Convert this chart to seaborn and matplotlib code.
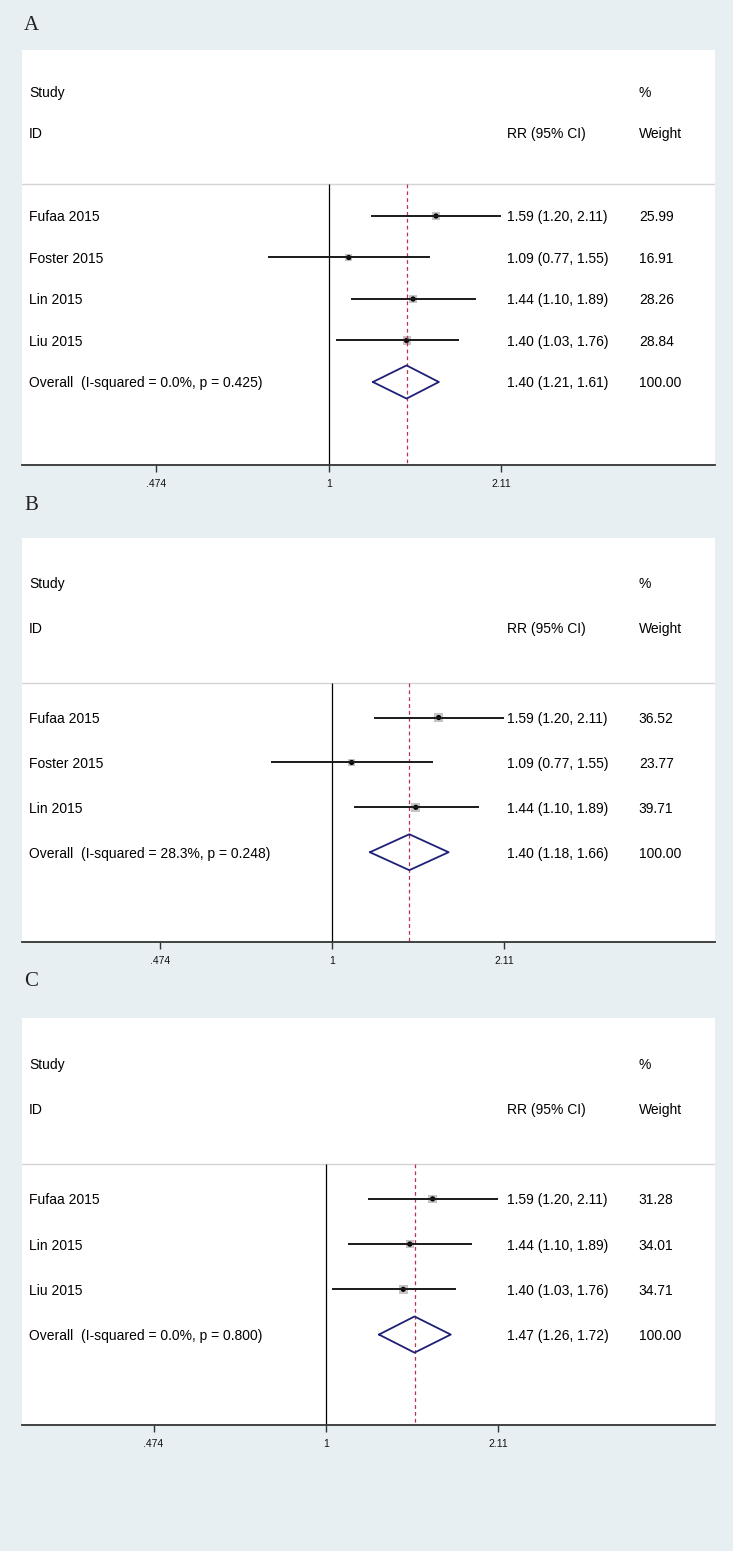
import numpy as np
import matplotlib
matplotlib.use("Agg")
import matplotlib.pyplot as plt
from matplotlib.ticker import NullLocator
import seaborn as sns

# data for the three forest plots
studies_a = ["Fufaa 2015", "Foster 2015", "Lin 2015", "Liu 2015"]
rr_a = [1.59, 1.09, 1.44, 1.40]
lo_a = [1.20, 0.77, 1.10, 1.03]
hi_a = [2.11, 1.55, 1.89, 1.76]
w_a = [25.99, 16.91, 28.26, 28.84]
overall_a = [1.40, 1.21, 1.61]
het_a = "Overall  (I-squared = 0.0%, p = 0.425)"

studies_b = ["Fufaa 2015", "Foster 2015", "Lin 2015"]
rr_b = [1.59, 1.09, 1.44]
lo_b = [1.20, 0.77, 1.10]
hi_b = [2.11, 1.55, 1.89]
w_b = [36.52, 23.77, 39.71]
overall_b = [1.40, 1.18, 1.66]
het_b = "Overall  (I-squared = 28.3%, p = 0.248)"

studies_c = ["Fufaa 2015", "Lin 2015", "Liu 2015"]
rr_c = [1.59, 1.44, 1.40]
lo_c = [1.20, 1.10, 1.03]
hi_c = [2.11, 1.89, 1.76]
w_c = [31.28, 34.01, 34.71]
overall_c = [1.47, 1.26, 1.72]
het_c = "Overall  (I-squared = 0.0%, p = 0.800)"

tick_vals = [0.474, 1, 2.11]
tick_labels = [".474", "1", "2.11"]

sns.set_style("white")
plt.rcParams['font.family'] = ['Liberation Sans', 'DejaVu Sans']
plt.rcParams['text.color'] = 'black'

W, H = 733, 1551
bg = "#e8eff2"
fig = plt.figure(figsize=(W / 100, H / 100), dpi=100, facecolor=bg)


def rect(left, top, right, bottom):
    return [left / W, 1 - bottom / H, (right - left) / W, (bottom - top) / H]


def forest(box, xlim, studies, rr, lo, hi, w, overall, het):
    ax = fig.add_axes(rect(*box))
    ax.set_facecolor("white")
    ax.set_xscale("log")
    ax.set_xlim(*xlim)
    rows = np.arange(len(studies)) + 3
    orow = rows[-1] + 1
    bottom = orow + 2
    ax.set_ylim(bottom, -1)
    div = 2.22

    ax.axhline(div, color="#d4d4d4", lw=1)
    ax.vlines(1, div, bottom, color="black", lw=0.9)
    ax.vlines(overall[0], div, bottom, color="#bb3050", lw=0.9, linestyles=(0, (3, 2.5)))

    ax.hlines(rows, lo, hi, color="#1a1a1a", lw=1.4)
    sns.scatterplot(x=rr, y=rows, size=w, sizes=(20, 45), size_norm=(10, 45),
                    marker="s", color="#c4c4c4", edgecolor="none", legend=False, ax=ax)
    sns.scatterplot(x=rr, y=rows, marker="o", s=14, color="black",
                    edgecolor="none", legend=False, ax=ax)

    e, l, h = overall
    ax.plot([l, e, h, e, l], [orow, orow - 0.4, orow, orow + 0.4, orow],
            color="#1f1f78", lw=1.3)

    fs = 10
    tr = ax.get_yaxis_transform()
    kw = dict(transform=tr, va="center_baseline", fontsize=fs, color="black")
    ax.text(0.01, 0, "Study", **kw)
    ax.text(0.01, 1, "ID", **kw)
    ax.text(0.70, 1, "RR (95% CI)", **kw)
    ax.text(0.89, 0, "%", **kw)
    ax.text(0.89, 1, "Weight", **kw)
    for r, s, m, a, b, wt in zip(rows, studies, rr, lo, hi, w):
        ax.text(0.01, r, s, **kw)
        ax.text(0.70, r, f"{m:.2f} ({a:.2f}, {b:.2f})", **kw)
        ax.text(0.89, r, f"{wt:.2f}", **kw)
    ax.text(0.01, orow, het, **kw)
    ax.text(0.70, orow, f"{e:.2f} ({l:.2f}, {h:.2f})", **kw)
    ax.text(0.89, orow, "100.00", **kw)

    ax.set_xticks(tick_vals)
    ax.set_xticklabels(tick_labels)
    ax.xaxis.set_minor_locator(NullLocator())
    ax.set_yticks([])
    ax.tick_params(axis="x", direction="out", length=5, width=1, color="#333333",
                   pad=5, labelsize=7.5, labelcolor="#111111", bottom=True)
    for sp in ["top", "left", "right"]:
        ax.spines[sp].set_visible(False)
    ax.spines["bottom"].set_color("#333333")
    ax.spines["bottom"].set_linewidth(1.3)
    ax.set_xlabel("")
    ax.set_ylabel("")
    return ax


forest((22, 50, 715, 465), (0.265, 5.32), studies_a, rr_a, lo_a, hi_a, w_a, overall_a, het_a)
forest((22, 538, 715, 942), (0.261, 5.27), studies_b, rr_b, lo_b, hi_b, w_b, overall_b, het_b)
forest((22, 1018, 715, 1425), (0.268, 5.41), studies_c, rr_c, lo_c, hi_c, w_c, overall_c, het_c)

for letter, y in [("A", 26), ("B", 505), ("C", 982)]:
    fig.text(24 / W, 1 - y / H, letter, fontsize=15, family="Liberation Serif",
             va="center", ha="left", color="#222222")

fig.savefig("out.png", dpi=100, facecolor=bg)
